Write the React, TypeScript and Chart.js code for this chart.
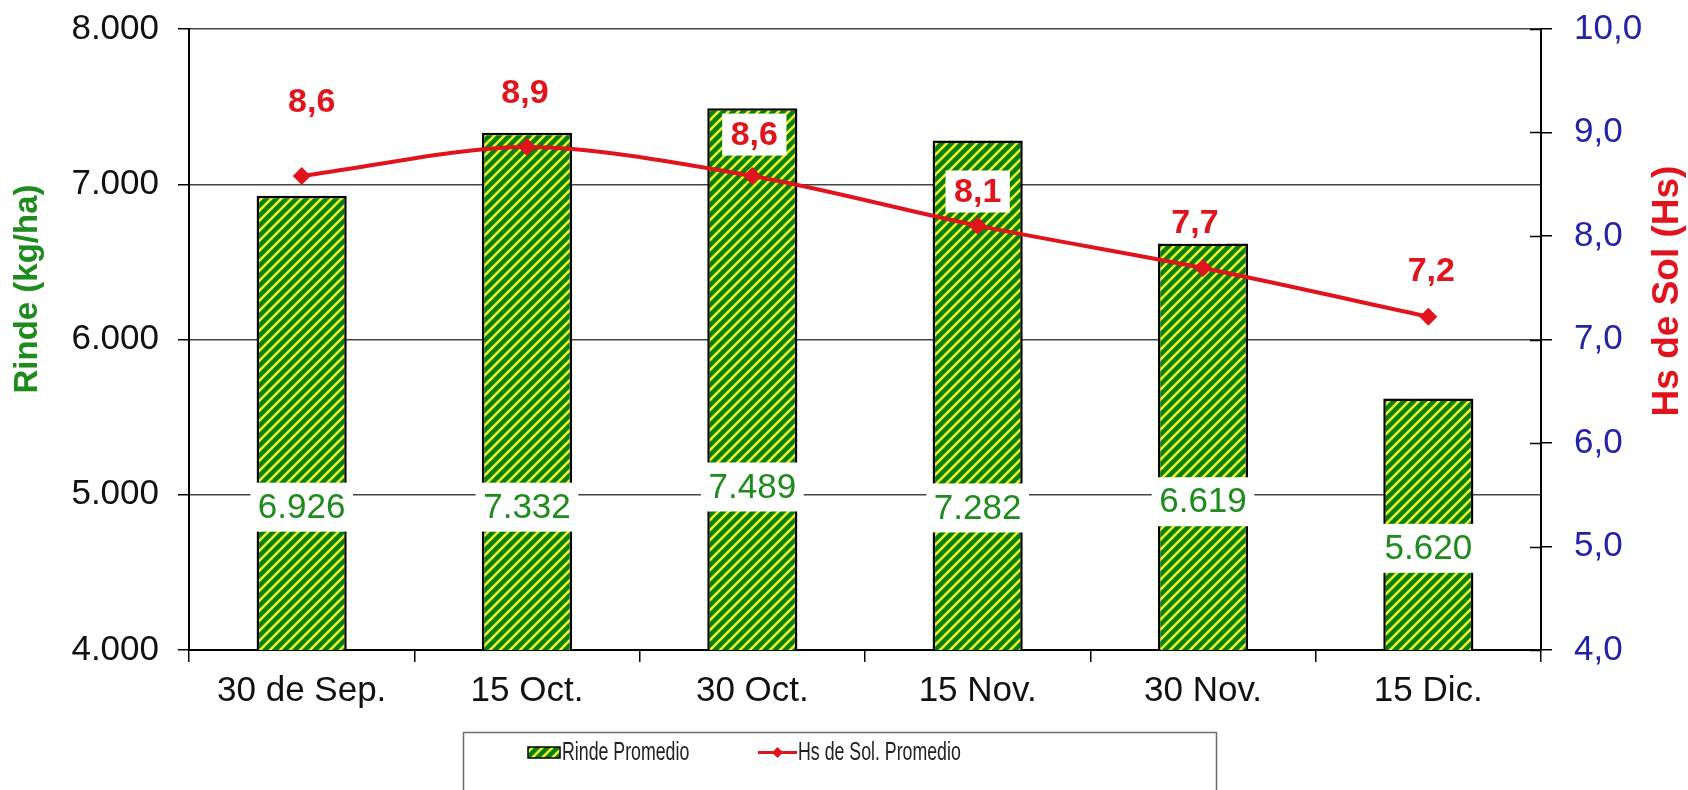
import { useEffect, useRef } from "react";
import { Chart, registerables } from "chart.js";

Chart.register(...registerables);

// ---------------- data ----------------
const categories = ["30 de Sep.", "15 Oct.", "30 Oct.", "15 Nov.", "30 Nov.", "15 Dic."];
const rindeValues = [6926, 7332, 7489, 7282, 6619, 5620];
const hsValues = [8.58, 8.86, 8.58, 8.1, 7.69, 7.22];
const rindeRange = [4000, 8000];
const hsRange = [4, 10];
const seriesNames = ["Rinde Promedio", "Hs de Sol. Promedio"];
const axisTitles = ["Rinde (kg/ha)", "Hs de Sol (Hs)"];

// ---------------- layout / style (label placement in axis units) ----------------
const RINDE_LABEL_AT = [4920, 4920, 5050, 4915, 4955, 4655];
const HS_LABEL_AT = [9.3, 9.39, 8.98, 8.43, 8.13, 7.67];
const HS_LABEL_DX = [10, -2, 2, 0, -8, 3];

const FONT = '"Liberation Sans", Arial, sans-serif';
const GREEN = "#068006";
const YELLOW = "#ecf230";
const RED = "#e0141c";
const BLUE = "#2323a8";
const LABEL_GREEN = "#1d8c1d";

const fmtRinde = (v: number) => String(Math.round(v)).replace(/\B(?=(\d{3})+(?!\d))/g, ".");
const fmtHs = (v: number) => v.toFixed(1).replace(".", ",");

function makePattern(ctx: CanvasRenderingContext2D) {
  const n = 10;
  const c = document.createElement("canvas");
  c.width = n;
  c.height = n;
  const p = c.getContext("2d")!;
  p.fillStyle = GREEN;
  p.fillRect(0, 0, n, n);
  p.strokeStyle = YELLOW;
  p.lineWidth = 2.6;
  p.beginPath();
  p.moveTo(-3, n + 3);
  p.lineTo(n + 3, -3);
  p.moveTo(-n / 2, n / 2);
  p.lineTo(n / 2, -n / 2);
  p.moveTo(n / 2, n + n / 2);
  p.lineTo(n + n / 2, n / 2);
  p.stroke();
  return ctx.createPattern(c, "repeat")!;
}

export default function App() {
  const ref = useRef<HTMLCanvasElement>(null);

  useEffect(() => {
    document.body.style.margin = "0";
    const canvas = ref.current!;
    const ctx0 = canvas.getContext("2d")!;
    const pattern = makePattern(ctx0);

    const decorPlugin = {
      id: "decor",
      afterDatasetsDraw(chart: any) {
        const ctx: CanvasRenderingContext2D = chart.ctx;
        const y = chart.scales.y;
        const y1 = chart.scales.y1;
        const area = chart.chartArea;
        ctx.save();
        // inner ticks on right axis
        ctx.strokeStyle = "#000";
        ctx.lineWidth = 1.5;
        y1.ticks.forEach((t: any) => {
          const py = Math.round(y1.getPixelForValue(t.value)) + 0.5;
          ctx.beginPath();
          ctx.moveTo(area.right - 11, py);
          ctx.lineTo(area.right, py);
          ctx.stroke();
        });

        // bar value labels
        const barMeta = chart.getDatasetMeta(1);
        ctx.font = `35px ${FONT}`;
        ctx.textAlign = "center";
        ctx.textBaseline = "middle";
        barMeta.data.forEach((el: any, i: number) => {
          const txt = fmtRinde(rindeValues[i]);
          const w = ctx.measureText(txt).width + 15;
          const h = 49;
          const cy = y.getPixelForValue(RINDE_LABEL_AT[i]);
          ctx.fillStyle = "#fff";
          ctx.fillRect(el.x - w / 2, cy - h / 2, w, h);
          ctx.fillStyle = LABEL_GREEN;
          ctx.fillText(txt, el.x, cy + 1);
        });

        // line value labels
        const lineMeta = chart.getDatasetMeta(0);
        ctx.font = `bold 34px ${FONT}`;
        lineMeta.data.forEach((el: any, i: number) => {
          const txt = fmtHs(hsValues[i]);
          const cx = el.x + HS_LABEL_DX[i];
          const cy = y1.getPixelForValue(HS_LABEL_AT[i]);
          const w = ctx.measureText(txt).width + 17;
          const h = 42;
          ctx.fillStyle = "#fff";
          ctx.fillRect(cx - w / 2, cy - h / 2, w, h);
          ctx.fillStyle = RED;
          ctx.fillText(txt, cx, cy + 1);
        });
        ctx.restore();
      },
      afterDraw(chart: any) {
        const ctx: CanvasRenderingContext2D = chart.ctx;
        ctx.save();
        // axis titles
        ctx.textAlign = "center";
        ctx.textBaseline = "middle";
        ctx.font = `bold 33px ${FONT}`;
        ctx.fillStyle = LABEL_GREEN;
        ctx.translate(28, 289);
        ctx.rotate(-Math.PI / 2);
        ctx.fillText(axisTitles[0], 0, 0);
        ctx.restore();

        ctx.save();
        ctx.textAlign = "center";
        ctx.textBaseline = "middle";
        ctx.font = `bold 37px ${FONT}`;
        ctx.fillStyle = RED;
        ctx.translate(1668, 291);
        ctx.rotate(-Math.PI / 2);
        ctx.fillText(axisTitles[1], 0, 0);
        ctx.restore();

        // legend box
        ctx.save();
        ctx.strokeStyle = "#6e6e6e";
        ctx.lineWidth = 1.5;
        ctx.strokeRect(463.5, 732.5, 753, 80);
        // bar swatch
        ctx.fillStyle = pattern;
        ctx.fillRect(528, 747, 32, 11);
        ctx.strokeStyle = "#000";
        ctx.lineWidth = 1.5;
        ctx.strokeRect(528, 747, 32, 11);
        // line swatch
        ctx.strokeStyle = RED;
        ctx.lineWidth = 3;
        ctx.beginPath();
        ctx.moveTo(758, 752.5);
        ctx.lineTo(797, 752.5);
        ctx.stroke();
        ctx.fillStyle = RED;
        ctx.beginPath();
        ctx.moveTo(777.5, 747);
        ctx.lineTo(783, 752.5);
        ctx.lineTo(777.5, 758);
        ctx.lineTo(772, 752.5);
        ctx.closePath();
        ctx.fill();
        // texts
        ctx.font = `25px ${FONT}`;
        ctx.fillStyle = "#222";
        ctx.textBaseline = "middle";
        ctx.textAlign = "left";
        const drawNarrow = (txt: string, x: number, yy: number) => {
          ctx.save();
          ctx.translate(x, yy);
          ctx.scale(0.71, 1);
          ctx.fillText(txt, 0, 0);
          ctx.restore();
        };
        drawNarrow(seriesNames[0], 562, 753);
        drawNarrow(seriesNames[1], 798, 753);
        ctx.restore();
      },
    };

    const noVPad = (s: any) => {
      s.paddingTop = 0;
      s.paddingBottom = 0;
    };

    const chart = new Chart(canvas, {
      type: "bar",
      data: {
        labels: categories,
        datasets: [
          {
            type: "line",
            label: seriesNames[1],
            data: hsValues,
            yAxisID: "y1",
            borderColor: RED,
            backgroundColor: RED,
            borderWidth: 4,
            pointStyle: "rectRot",
            pointRadius: 9,
            pointBorderWidth: 0,
            tension: 0.3,
            order: 0,
          } as any,
          {
            type: "bar",
            label: seriesNames[0],
            data: rindeValues,
            yAxisID: "y",
            backgroundColor: pattern as any,
            borderColor: "#000",
            borderWidth: 2.5,
            borderSkipped: false,
            barPercentage: 0.4,
            categoryPercentage: 1,
            order: 1,
          } as any,
        ],
      },
      options: {
        responsive: false,
        animation: false,
        devicePixelRatio: 1,
        layout: { padding: { top: 29, left: 0, right: 0, bottom: 0 } },
        plugins: {
          legend: { display: false },
          tooltip: { enabled: false },
          title: { display: false },
        },
        scales: {
          x: {
            grid: {
              display: true,
              drawOnChartArea: false,
              offset: true,
              tickLength: 12,
              color: "#000",
              lineWidth: 1.5,
            },
            border: { display: true, color: "#000", width: 2 },
            ticks: { color: "#111", font: { family: FONT, size: 35 }, padding: 8 },
            afterFit: (s: any) => {
              s.height = 140;
            },
          },
          y: {
            position: "left",
            min: rindeRange[0],
            max: rindeRange[1],
            ticks: {
              stepSize: 1000,
              callback: (v: any) => fmtRinde(Number(v)),
              color: "#111",
              font: { family: FONT, size: 35 },
              padding: 19,
            },
            grid: { color: "#444", lineWidth: 1.5, tickLength: 11, tickColor: "#000" },
            border: { display: true, color: "#000", width: 2 },
            afterFit: (s: any) => {
              s.width = 189;
              noVPad(s);
            },
          },
          y1: {
            position: "right",
            min: hsRange[0],
            max: hsRange[1],
            ticks: {
              stepSize: 1,
              callback: (v: any) => fmtHs(Number(v)),
              color: BLUE,
              font: { family: FONT, size: 35 },
              padding: 22,
            },
            grid: { drawOnChartArea: false, tickLength: 11, color: "#000", lineWidth: 1.5 },
            border: { display: true, color: "#000", width: 2 },
            afterFit: (s: any) => {
              s.width = 147;
              noVPad(s);
            },
          },
        },
      } as any,
      plugins: [decorPlugin],
    });

    return () => chart.destroy();
  }, []);

  return <canvas ref={ref} width={1688} height={790} style={{ display: "block" }} />;
}
